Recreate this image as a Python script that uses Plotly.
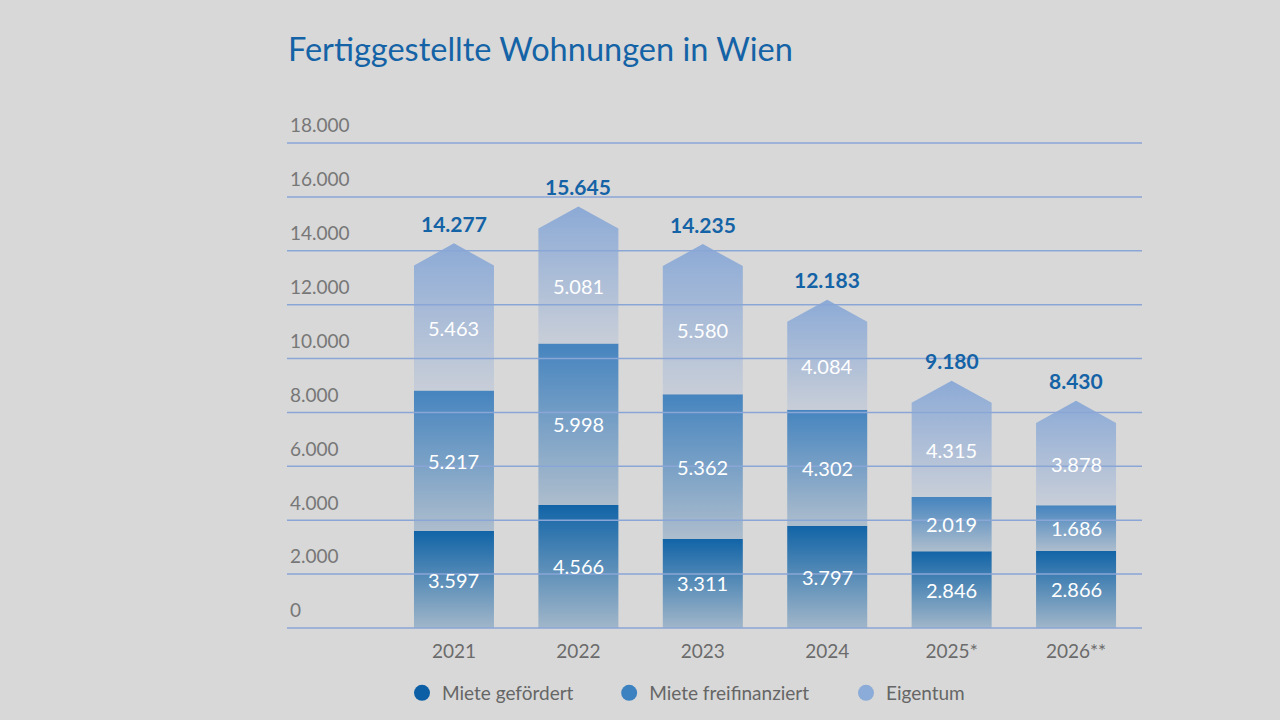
import plotly.graph_objects as go

categories = ["2021", "2022", "2023", "2024", "2025*", "2026**"]
miete_gefoerdert = [3597, 4566, 3311, 3797, 2846, 2866]
miete_frei = [5217, 5998, 5362, 4302, 2019, 1686]
eigentum = [5463, 5081, 5580, 4084, 4315, 3878]
totals = [14277, 15645, 14235, 12183, 9180, 8430]
series_names = ["Miete gefördert", "Miete freifinanziert", "Eigentum"]
y_ticks = [0, 2000, 4000, 6000, 8000, 10000, 12000, 14000, 16000, 18000]

BG = "#d8d8d8"
GRID = "#8aa6d6"
TITLE_BLUE = "#1463a6"
FONT = "Lato"
legend_colors = ["#0d5fa5", "#3c82c1", "#8babd8"]
legend_x = [0.1345, 0.3768, 0.6538]
grad = [
    ("#a1b6c9", "#1164a7"),
    ("#adbdcd", "#4584bf"),
    ("#c8ced8", "#8caad6"),
]
HALF = 0.3215
ROOF = 820


def fmt(v):
    return f"{v:,}".replace(",", ".")


fig = go.Figure()

for i, cat in enumerate(categories):
    x0, x1 = i - HALF, i + HALF
    b1 = miete_gefoerdert[i]
    b2 = b1 + miete_frei[i]
    tot = b2 + eigentum[i]
    polys = [
        ([x0, x1, x1, x0, x0], [0, 0, b1, b1, 0]),
        ([x0, x1, x1, x0, x0], [b1, b1, b2, b2, b1]),
        ([x0, x1, x1, i, x0, x0], [b2, b2, tot - ROOF, tot, tot - ROOF, b2]),
    ]
    for k, (xs, ys) in enumerate(polys):
        fig.add_trace(go.Scatter(
            x=xs, y=ys, mode="lines", fill="toself",
            line=dict(width=0, color="rgba(0,0,0,0)"),
            fillgradient=dict(type="vertical",
                              colorscale=[[0, grad[k][0]], [1, grad[k][1]]]),
            showlegend=False, hoverinfo="skip",
        ))

# legend entries, each in its own legend for exact placement
legend_ids = ["legend", "legend2", "legend3"]
for name, col, lid in zip(series_names, legend_colors, legend_ids):
    fig.add_trace(go.Scatter(
        x=[None], y=[None], mode="markers", name=name, legend=lid,
        marker=dict(symbol="circle", size=20, color=col),
    ))

annotations = []
for i in range(len(categories)):
    b1 = miete_gefoerdert[i]
    b2 = b1 + miete_frei[i]
    tot = b2 + eigentum[i]
    mids = [b1 / 2, (b1 + b2) / 2, (b2 + tot - ROOF) / 2]
    vals = [miete_gefoerdert[i], miete_frei[i], eigentum[i]]
    for m, v in zip(mids, vals):
        annotations.append(dict(
            x=i, y=m, xref="x", yref="y", text=fmt(v), showarrow=False,
            font=dict(family=FONT, size=20, color="white"),
        ))
    annotations.append(dict(
        x=i, y=totals[i], xref="x", yref="y", text="<b>" + fmt(totals[i]) + "</b>",
        showarrow=False, yshift=20,
        font=dict(family=FONT, size=21, color=TITLE_BLUE),
    ))

shapes = [dict(type="line", xref="paper", yref="y", x0=0, x1=1, y0=t, y1=t,
               line=dict(color=GRID, width=1.5), layer="above") for t in y_ticks]

legend_common = dict(orientation="h", xanchor="left", yref="container",
                     y=1 - 693 / 720, yanchor="middle",
                     font=dict(family=FONT, size=19, color="#666666"),
                     bgcolor="rgba(0,0,0,0)")

fig.update_layout(
    width=1280, height=720,
    paper_bgcolor=BG, plot_bgcolor=BG,
    margin=dict(l=287, r=138, t=135, b=88, autoexpand=False),
    separators=",.",
    title=dict(text="Fertiggestellte Wohnungen in Wien", x=288 / 1280, xanchor="left",
               y=1 - 50 / 720, yanchor="middle",
               font=dict(family=FONT, size=32.5, color=TITLE_BLUE)),
    xaxis=dict(range=[-1.342, 5.53], tickmode="array", tickvals=list(range(len(categories))),
               ticktext=categories, showgrid=False, zeroline=False, showline=False,
               ticks="", ticklabelstandoff=6,
               tickfont=dict(family=FONT, size=19, color="#6b6b6b")),
    yaxis=dict(range=[-150, 18300], tickmode="array", tickvals=y_ticks,
               ticktext=[fmt(t) for t in y_ticks], showgrid=False, zeroline=False,
               ticklabelposition="inside top", ticklabeloverflow="allow",
               ticklabelshift=-4, ticklabelstandoff=0,
               ticks="", tickfont=dict(family=FONT, size=19, color="#777777")),
    legend=dict(x=legend_x[0], **legend_common),
    legend2=dict(x=legend_x[1], **legend_common),
    legend3=dict(x=legend_x[2], **legend_common),
    annotations=annotations,
    shapes=shapes,
)

fig.write_html(
    "out.html",
    config={"displayModeBar": False},
    post_script="document.body.style.margin='0';document.body.style.background='#d8d8d8';",
)
